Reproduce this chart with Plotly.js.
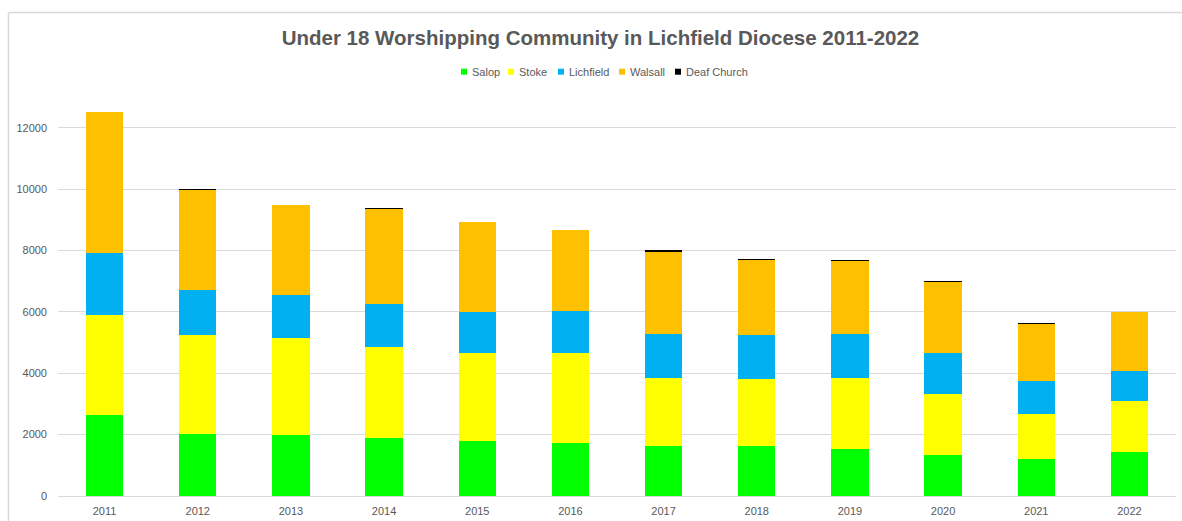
<!DOCTYPE html>
<html>
<head>
<meta charset="utf-8">
<script src="https://cdn.plot.ly/plotly-3.0.1.min.js"></script>
<style>
html,body{margin:0;padding:0;background:#fff;}
#chart{width:1182px;height:521px;}
</style>
</head>
<body>
<div id="chart"></div>
<script>
const years = ["2011","2012","2013","2014","2015","2016","2017","2018","2019","2020","2021","2022"];
const salop     = [2650, 2030, 2000, 1890, 1780, 1740, 1620, 1640, 1540, 1350, 1215, 1445];
const stoke     = [3260, 3205, 3160, 2980, 2870, 2910, 2230, 2160, 2305, 1965, 1460, 1660];
const lichfield = [2010, 1490, 1400, 1400, 1360, 1390, 1430, 1450, 1445, 1335, 1075,  970];
const walsall   = [4600, 3260, 2915, 3075, 2910, 2640, 2675, 2455, 2360, 2315, 1845, 1910];
const deaf      = [   0,   25,    0,   30,    0,    0,   45,   25,   25,   25,   50,   25];
const yTicks = [0, 2000, 4000, 6000, 8000, 10000, 12000];
const seriesNames = ["Salop", "Stoke", "Lichfield", "Walsall", "Deaf Church"];
const seriesColors = ["#00ff00", "#ffff00", "#00b0f0", "#ffc000", "#000000"];
const seriesValues = [salop, stoke, lichfield, walsall, deaf];

const traces = seriesNames.map((n, i) => ({
  type: "bar",
  name: n,
  x: years,
  y: seriesValues[i],
  marker: {color: seriesColors[i], line: {width: 0}},
  showlegend: false
}));

// pixel geometry helpers (plot area: left 58, width 1118, top 97, height 399)
const L = 58, W = 1118, T = 97, H = 399;
const px2x = p => (p - L) / W;
const py2y = p => (T + H - p) / H;

// custom legend, Excel-like compact spacing
const legendStarts = [461, 508, 558, 619, 675];
const legendY = py2y(71.7);
const shapes = [];
const annotations = [];
seriesNames.forEach((n, i) => {
  const x0 = legendStarts[i];
  shapes.push({type: "rect", xref: "paper", yref: "paper",
    x0: px2x(x0), x1: px2x(x0 + 6), y0: py2y(74.7), y1: py2y(68.7),
    fillcolor: seriesColors[i], line: {width: 0}});
  annotations.push({xref: "paper", yref: "paper", x: px2x(x0 + 9), y: legendY,
    xanchor: "left", yanchor: "middle", showarrow: false, text: n,
    font: {size: 11, color: "#595959"}});
});
// chart border (top + left, as in reference)
shapes.push({type: "line", xref: "paper", yref: "paper",
  x0: px2x(8.5), x1: px2x(8.5), y0: py2y(530), y1: py2y(12.5),
  line: {color: "#d9d9d9", width: 1.5}});
shapes.push({type: "line", xref: "paper", yref: "paper",
  x0: px2x(8.5), x1: px2x(1182), y0: py2y(12.5), y1: py2y(12.5),
  line: {color: "#d9d9d9", width: 1.5}});

const layout = {
  width: 1182,
  height: 521,
  barmode: "stack",
  bargap: 0.6,
  paper_bgcolor: "#ffffff",
  plot_bgcolor: "#ffffff",
  margin: {l: L, r: 1182 - L - W, t: T, b: 521 - T - H},
  font: {family: "Liberation Sans, Arial, sans-serif", color: "#595959", size: 11},
  showlegend: false,
  title: {
    text: "<b>Under 18 Worshipping Community in Lichfield Diocese 2011-2022</b>",
    font: {family: "Liberation Sans, Arial, sans-serif", size: 20.5, color: "#595959"},
    x: 0.508, xanchor: "center", y: 1 - 38 / 521, yanchor: "middle"
  },
  xaxis: {
    type: "category",
    showgrid: false,
    showline: true,
    linecolor: "#d9d9d9",
    linewidth: 1,
    ticks: "",
    ticklabelstandoff: 5,
    tickfont: {size: 11, color: "#595959"},
    fixedrange: true
  },
  yaxis: {
    range: [0, 13000],
    tickvals: yTicks,
    ticktext: yTicks.map(String),
    showgrid: true,
    gridcolor: "#d9d9d9",
    gridwidth: 1,
    zeroline: false,
    showline: false,
    ticks: "",
    ticklabelstandoff: 10,
    tickfont: {size: 11, color: "#595959"},
    fixedrange: true
  },
  shapes: shapes,
  annotations: annotations
};

Plotly.newPlot("chart", traces, layout, {displayModeBar: false, staticPlot: true});
</script>
</body>
</html>
